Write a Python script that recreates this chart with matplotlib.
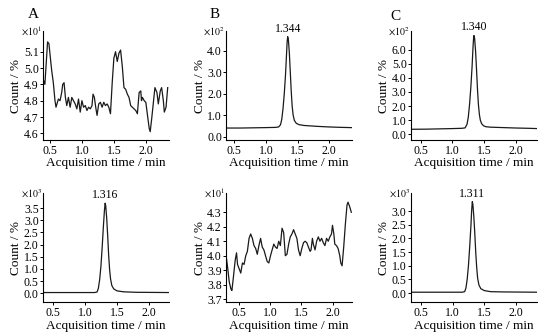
import matplotlib
matplotlib.use("Agg")
import matplotlib.pyplot as plt

plt.rcParams['font.family'] = ['Liberation Serif', 'DejaVu Serif']
plt.rcParams['mathtext.fontset'] = 'stix'

# ---- data ----
# A top: noisy background
a1_t = [0.395, 0.421, 0.463, 0.484, 0.526, 0.553, 0.579, 0.595, 0.632, 0.658, 0.684, 0.700,
        0.721, 0.742, 0.763, 0.789, 0.816, 0.842, 0.868, 0.895, 0.921, 0.947, 0.974, 1.000,
        1.026, 1.053, 1.079, 1.105, 1.132, 1.158, 1.174, 1.195, 1.216, 1.237, 1.263, 1.289,
        1.316, 1.342, 1.368, 1.395, 1.421, 1.447, 1.474, 1.500, 1.526, 1.553, 1.579, 1.605,
        1.632, 1.658, 1.684, 1.711, 1.737, 1.763, 1.789, 1.816, 1.842, 1.868, 1.895, 1.921,
        1.932, 1.947, 1.974, 2.000, 2.026, 2.053, 2.068, 2.089, 2.121, 2.142, 2.174, 2.195,
        2.226, 2.247, 2.274, 2.289, 2.316, 2.342]
a1_v = [4.93, 4.90, 5.16, 5.15, 4.99, 4.91, 4.80, 4.76, 4.81, 4.80, 4.85, 4.90,
        4.91, 4.82, 4.77, 4.82, 4.76, 4.82, 4.80, 4.78, 4.75, 4.81, 4.73, 4.80,
        4.76, 4.77, 4.74, 4.76, 4.75, 4.77, 4.84, 4.82, 4.76, 4.71, 4.78, 4.79,
        4.76, 4.79, 4.77, 4.78, 4.76, 4.72, 4.91, 5.06, 5.10, 5.04, 5.09, 5.11,
        5.01, 4.88, 4.87, 4.84, 4.82, 4.77, 4.76, 4.75, 4.74, 4.72, 4.85, 4.86,
        4.80, 4.82, 4.80, 4.79, 4.71, 4.63, 4.61, 4.68, 4.80, 4.88, 4.85, 4.78,
        4.86, 4.88, 4.80, 4.73, 4.76, 4.88]

# B top: peak at 1.344
b1_t = [0.37, 0.6, 0.8, 1.0, 1.15, 1.2, 1.23, 1.25, 1.27, 1.29, 1.31, 1.325, 1.335, 1.344,
        1.355, 1.37, 1.385, 1.40, 1.415, 1.43, 1.45, 1.48, 1.52, 1.6, 1.8, 2.0, 2.2, 2.35]
b1_v = [0.40, 0.40, 0.41, 0.42, 0.43, 0.45, 0.55, 0.8, 1.3, 2.0, 2.9, 3.8, 4.4, 4.65,
        4.5, 3.9, 3.0, 2.1, 1.4, 1.0, 0.75, 0.62, 0.56, 0.52, 0.48, 0.45, 0.43, 0.42]

# C top: peak at 1.340
c1_t = [0.35, 0.6, 0.8, 1.0, 1.15, 1.2, 1.23, 1.25, 1.27, 1.29, 1.31, 1.325, 1.335, 1.340,
        1.35, 1.365, 1.38, 1.395, 1.41, 1.425, 1.44, 1.46, 1.49, 1.53, 1.6, 1.8, 2.0, 2.2, 2.33]
c1_v = [0.35, 0.36, 0.38, 0.40, 0.42, 0.45, 0.7, 1.2, 2.1, 3.3, 4.8, 6.2, 6.9, 7.0,
        6.8, 5.9, 4.6, 3.2, 2.1, 1.4, 1.0, 0.75, 0.6, 0.53, 0.5, 0.47, 0.44, 0.42, 0.40]

# A bottom: peak at 1.316
a2_t = [0.35, 0.8, 1.15, 1.19, 1.21, 1.23, 1.25, 1.27, 1.29, 1.305, 1.316, 1.325, 1.34,
        1.355, 1.37, 1.385, 1.40, 1.42, 1.45, 1.5, 1.6, 1.8, 2.31]
a2_v = [0.03, 0.03, 0.03, 0.05, 0.2, 0.55, 1.1, 1.9, 2.8, 3.4, 3.7, 3.6, 3.1,
        2.4, 1.6, 1.0, 0.6, 0.32, 0.18, 0.1, 0.06, 0.04, 0.03]

# B bottom: noisy background
b2_t = [0.288, 0.315, 0.341, 0.368, 0.384, 0.410, 0.437, 0.458, 0.474, 0.500, 0.526, 0.553,
        0.579, 0.606, 0.632, 0.659, 0.685, 0.712, 0.738, 0.765, 0.791, 0.817, 0.844, 0.870,
        0.897, 0.923, 0.950, 0.976, 1.003, 1.029, 1.056, 1.082, 1.108, 1.135, 1.161, 1.188,
        1.214, 1.241, 1.267, 1.294, 1.320, 1.347, 1.373, 1.399, 1.426, 1.452, 1.479, 1.505,
        1.532, 1.558, 1.585, 1.611, 1.638, 1.653, 1.675, 1.690, 1.717, 1.743, 1.770, 1.796,
        1.823, 1.849, 1.876, 1.902, 1.929, 1.955, 1.981, 1.997, 2.019, 2.034, 2.061, 2.087,
        2.114, 2.130, 2.151, 2.177, 2.204, 2.230, 2.246, 2.272, 2.299]
b2_v = [4.01, 3.92, 3.82, 3.77, 3.76, 3.86, 3.97, 4.02, 3.94, 3.91, 3.88, 3.95,
        3.94, 4.00, 4.03, 4.12, 4.15, 4.12, 4.07, 4.05, 4.01, 4.07, 4.12, 4.06,
        4.04, 4.00, 3.96, 3.95, 4.00, 4.04, 4.08, 4.06, 4.05, 4.10, 4.07, 4.19,
        4.16, 4.00, 4.01, 4.08, 4.13, 4.15, 4.18, 4.15, 4.12, 4.04, 4.00, 4.05,
        4.09, 4.10, 4.09, 4.06, 4.03, 4.04, 4.12, 4.08, 4.04, 4.10, 4.13, 4.10,
        4.12, 4.09, 4.07, 4.12, 4.10, 4.13, 4.15, 4.21, 4.15, 4.08, 4.07, 4.05,
        4.00, 3.95, 3.93, 4.06, 4.22, 4.35, 4.37, 4.34, 4.30]

# C bottom: peak at 1.311
c2_t = [0.34, 0.8, 1.15, 1.19, 1.21, 1.23, 1.25, 1.27, 1.29, 1.30, 1.311, 1.32, 1.335,
        1.35, 1.365, 1.38, 1.395, 1.415, 1.445, 1.5, 1.6, 1.8, 2.33]
c2_v = [0.03, 0.03, 0.03, 0.05, 0.18, 0.5, 1.0, 1.7, 2.5, 3.0, 3.35, 3.25, 2.8,
        2.2, 1.5, 0.95, 0.55, 0.3, 0.16, 0.09, 0.05, 0.04, 0.03]

panels = [
    # t, v, xlim, ylim, yticks, exponent, peak label
    (a1_t, a1_v, (0.39, 2.36), (4.56, 5.225), [4.6, 4.7, 4.8, 4.9, 5.0, 5.1], 1, None),
    (b1_t, b1_v, (0.37, 2.36), (-0.15, 4.9), [0.0, 1.0, 2.0, 3.0, 4.0], 2, '1.344'),
    (c1_t, c1_v, (0.345, 2.33), (-0.4, 7.3), [0.0, 1.0, 2.0, 3.0, 4.0, 5.0, 6.0], 2, '1.340'),
    (a2_t, a2_v, (0.345, 2.31), (-0.36, 4.1), [0.0, 0.5, 1.0, 1.5, 2.0, 2.5, 3.0, 3.5], 3, '1.316'),
    (b2_t, b2_v, (0.29, 2.31), (3.68, 4.43), [3.7, 3.8, 3.9, 4.0, 4.1, 4.2, 4.3], 1, None),
    (c2_t, c2_v, (0.34, 2.33), (-0.33, 3.65), [0.0, 0.5, 1.0, 1.5, 2.0, 2.5, 3.0], 3, '1.311'),
]

xticks = [0.5, 1.0, 1.5, 2.0]
lefts = [0.078, 0.411, 0.747]
bottoms = [0.58, 0.093]
w, h = 0.229, 0.326

fig = plt.figure(figsize=(5.5, 3.33), dpi=100)

for i, (t, v, xl, yl, yt, ex, lab) in enumerate(panels):
    row, col = divmod(i, 3)
    ax = fig.add_axes([lefts[col], bottoms[row], w, h])
    ax.plot(t, v, color='#1a1a1a', lw=0.9)
    ax.set_xlim(*xl)
    ax.set_ylim(*yl)
    ax.set_xticks(xticks)
    ax.set_yticks(yt)
    ax.set_xticklabels(['%.1f' % x for x in xticks])
    ax.set_yticklabels(['%.1f' % y for y in yt])
    ax.spines['top'].set_visible(False)
    ax.spines['right'].set_visible(False)
    for s in ('left', 'bottom'):
        ax.spines[s].set_linewidth(0.8)
    ax.tick_params(labelsize=8.5, length=2, width=0.7, pad=1)
    ax.tick_params(axis='x', pad=1.5)
    ax.set_xlabel('Acquisition time / min', fontsize=9.5, labelpad=0.5)
    ax.set_ylabel('Count / %', fontsize=9.5, labelpad=1)
    ax.text(-0.01, 1.0, r'$\times10^{%d}$' % ex, transform=ax.transAxes,
            ha='right', va='center', fontsize=7)
    if lab is not None:
        k = v.index(max(v))
        ax.annotate(lab, (t[k], v[k]), xytext=(0, 1.5), textcoords='offset points',
                    ha='center', va='bottom', fontsize=8.5)

fig.text(33 / 550, 1 - 15 / 333, 'A', fontsize=11, ha='center', va='center')
fig.text(215 / 550, 1 - 15 / 333, 'B', fontsize=11, ha='center', va='center')
fig.text(395 / 550, 1 - 17 / 333, 'C', fontsize=11, ha='center', va='center')

fig.savefig('out.png', dpi=100, facecolor='white')
